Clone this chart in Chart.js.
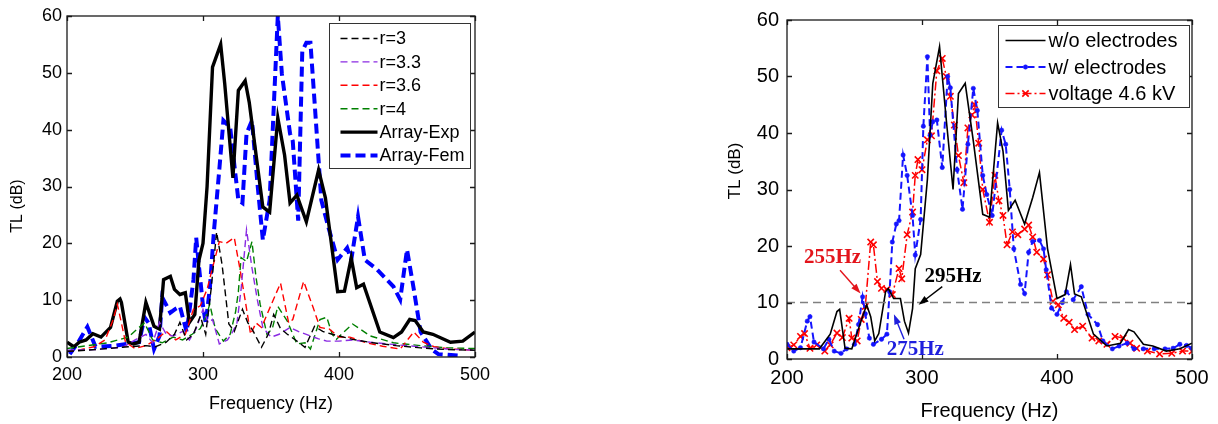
<!DOCTYPE html>
<html>
<head>
<meta charset="utf-8">
<script src="https://cdn.jsdelivr.net/npm/chart.js@4.4.1/dist/chart.umd.min.js"></script>
<style>
  body { margin: 0; background: #fff; width: 1218px; height: 424px; overflow: hidden; position: relative; }
  canvas { position: absolute; top: 0; }
  #tl-array { left: 0; }
  #tl-electrodes { left: 700px; }
</style>
</head>
<body>
<canvas id="tl-array" width="500" height="424"></canvas>
<canvas id="tl-electrodes" width="518" height="424"></canvas>
<script>
// ---- left panel: unit-cell ratio sweep vs. array measurement ----
const r3Freq = [200, 215, 230, 245, 258, 265, 273, 279, 283, 288, 293, 298, 302, 306, 310, 314, 319, 323, 329, 333, 337, 343, 348, 352, 357, 362, 368, 375, 382, 388, 395, 410, 425, 442, 460, 480, 500];
const r3TL   = [1.0, 1.2, 1.5, 1.8, 2.0, 1.8, 2.6, 4.0, 6.1, 3.0, 4.0, 7.2, 4.0, 12, 22, 16.3, 5.8, 4.5, 8.4, 6.0, 4.5, 1.7, 4.0, 7.5, 5.0, 4.0, 3.0, 1.7, 5.4, 4.5, 4.0, 3.1, 2.5, 2.0, 1.6, 1.3, 1.2];

const r33Freq = [200, 220, 241, 250, 258, 263, 268, 273, 278, 285, 290, 295, 300, 304, 307, 312, 318, 322, 325, 328, 332, 336, 340, 344, 350, 356, 364, 370, 379, 385, 391, 400, 410, 423, 440, 460, 480, 500];
const r33TL   = [1.2, 1.3, 1.7, 3.0, 4.0, 2.5, 6.1, 4.0, 3.7, 4.5, 3.0, 5.0, 8.4, 6.0, 6.6, 2.3, 3.0, 4.5, 6.0, 11.9, 22.4, 15.7, 10, 5.2, 3.5, 4.0, 5.2, 4.5, 3.7, 3.2, 2.8, 2.8, 3.0, 2.6, 2.2, 1.8, 1.4, 1.2];

const r36Freq = [200, 210, 220, 228, 234, 237, 240, 243, 250, 258, 265, 273, 280, 287, 293, 298, 303, 307, 312, 317, 323, 327, 331, 335, 339, 343, 348, 357, 363, 366, 374, 381, 386, 393, 400, 408, 420, 432, 445, 455, 462, 470, 482, 500];
const r36TL   = [1.0, 1.3, 1.8, 3.0, 6.6, 9.3, 6.0, 2.6, 1.5, 2.0, 3.0, 4.5, 3.0, 4.0, 8.4, 9.0, 11.9, 15.7, 20.3, 20.0, 21.0, 15.7, 10, 4.0, 6.0, 5.2, 8.0, 13, 6.0, 6.6, 13.3, 8.7, 5.2, 4.9, 3.5, 3.5, 2.5, 1.9, 1.4, 4.4, 2.6, 1.8, 1.4, 1.2];

const r4Freq = [200, 215, 230, 245, 252, 257, 263, 270, 278, 285, 292, 298, 302, 305, 309, 315, 320, 324, 326, 328, 332, 336, 339, 342, 347, 351, 355, 362, 369, 375, 379, 386, 391, 395, 398, 404, 410, 423, 440, 460, 480, 500];
const r4TL   = [1.5, 2.0, 2.5, 3.5, 5.0, 6.0, 3.0, 2.5, 3.5, 3.0, 4.0, 5.0, 7.0, 9.3, 5.0, 2.8, 4.0, 8.0, 11.5, 17.5, 16.8, 20.3, 14, 9.3, 4.0, 5.0, 8.9, 6.3, 2.3, 2.5, 1.4, 6.6, 7.0, 4.0, 3.1, 4.5, 5.8, 3.7, 2.5, 2.0, 1.6, 1.5];

const expFreq = [200, 205, 209, 214, 219, 225, 232, 237, 239, 240, 245, 249, 253, 258, 264, 268, 271, 276, 279, 283, 287, 290, 294, 297, 300, 303, 307, 313, 316, 322, 326, 331, 334, 344, 349, 355, 360, 364, 369, 376, 385, 390, 399, 404, 409, 413, 418, 430, 440, 446, 452, 456, 462, 469, 482, 491, 500];
const expTL   = [2.6, 1.8, 2.6, 3.0, 4.1, 3.5, 5.2, 9.8, 10.2, 9.6, 2.6, 2.3, 2.6, 9.6, 5.4, 4.9, 13.6, 14.2, 11.9, 11.0, 11.3, 6.1, 7.5, 17, 20, 30, 51, 55, 48, 31.5, 46.9, 48.6, 44.8, 26.4, 25.5, 42.1, 35.5, 27.1, 28.5, 23.8, 32.9, 28, 11.5, 11.6, 17.4, 12.2, 12.8, 4.4, 3.4, 4.4, 6.6, 6.4, 4.4, 4.0, 2.6, 2.8, 4.4];

const femFreq = [202, 208, 215, 221, 229, 236, 244, 253, 257, 260, 264, 268, 270, 276, 280, 283, 288, 293, 295, 297, 300, 302, 305, 308, 312, 315, 320, 322, 326, 329, 332, 336, 340, 344, 349, 355, 358, 364, 366, 370, 373, 376, 379, 382, 387, 392, 399, 406, 409, 414, 419, 428, 440, 445, 450, 455, 460, 468, 473, 490];
const femTL   = [0.5, 2.5, 5.3, 1.8, 1.9, 2.0, 2.3, 2.6, 7.0, 6.0, 1.4, 3.7, 10.5, 7.8, 8.5, 8.9, 4.4, 13.6, 21, 16, 9, 6, 12, 22, 33, 41.6, 40.4, 36, 27.6, 27.1, 39.3, 41.6, 30.6, 20.6, 27.6, 60, 49.8, 39.3, 38, 24, 53.8, 55.3, 55.3, 45, 27.6, 23, 17.1, 19.2, 17.1, 24.7, 17.1, 15.4, 12.4, 10.1, 18.9, 11.9, 4.4, 1.4, 0.5, 0.2];

// ---- right panel: effect of electrodes and applied voltage ----
const bareFreq = [200, 210, 224, 232, 237, 239, 243, 248, 254, 259, 262, 265, 268, 273, 275, 279, 284, 287, 290, 293, 295, 299, 304, 308, 313, 318, 323, 327, 332, 338, 345, 350, 356, 360, 364, 369, 376, 382, 387, 393, 400, 406, 410, 413, 418, 427, 437, 447, 453, 457, 464, 471, 481, 491, 500];
const bareTL   = [1.8, 1.8, 1.8, 4.4, 8.4, 8.8, 1.9, 1.8, 6.1, 9.6, 7.5, 3.2, 4.5, 11.9, 12.5, 10.7, 10.7, 6.7, 4.6, 8.9, 16, 18.5, 31.8, 48.8, 55.3, 42.3, 30, 47, 48.8, 38.6, 25.6, 25.1, 41.8, 36.8, 26.3, 28.1, 23.9, 28.6, 33, 19.5, 10.7, 11.4, 16.7, 11.5, 11, 4.4, 2.3, 2.8, 5.2, 4.8, 2.6, 2.3, 1.4, 1.8, 2.8];

const electFreq = [200, 205, 210, 215, 217, 220, 227, 231, 235, 240, 244, 250, 253, 256, 258, 261, 264, 270, 274, 276, 278, 281, 283, 286, 289, 293, 295, 299, 301, 304, 306, 308, 311, 315, 319, 321, 326, 330, 334, 338, 341, 345, 348, 352, 359, 362, 365, 368, 373, 376, 379, 382, 387, 390, 392, 396, 400, 404, 407, 412, 418, 423, 430, 434, 441, 446, 452, 457, 464, 472, 480, 486, 491, 496, 500];
const electTL   = [2.6, 1.4, 2.0, 6.7, 7.5, 3.0, 1.8, 3.5, 1.4, 1.0, 1.8, 2.6, 6.1, 11, 8, 3.7, 2.6, 3.5, 4.4, 11.9, 20.7, 23.9, 24.5, 36.1, 32.5, 25.4, 18.4, 24.7, 41.2, 53.5, 39.6, 42, 42.3, 33.9, 50, 48, 33.5, 26.5, 38, 47.9, 44, 32.5, 29.1, 25.4, 40.5, 38, 30, 19.5, 13.2, 11.6, 18.9, 20.8, 21, 19.5, 15.8, 9, 7.9, 10, 11.9, 10.5, 12.8, 7.9, 6.1, 3.2, 1.8, 2.3, 2.8, 1.8, 1.8, 1.8, 1.8, 1.9, 2.6, 2.4, 1.9];

const voltFreq = [200, 205, 210, 213, 217, 222, 228, 232, 237, 241, 246, 248, 252, 255, 258, 262, 264, 267, 270, 274, 278, 283, 285, 289, 293, 295, 297, 300, 304, 307, 311, 315, 318, 321, 324, 327, 331, 334, 337, 339, 342, 345, 350, 354, 357, 360, 363, 367, 371, 376, 379, 382, 385, 390, 393, 397, 401, 405, 409, 413, 419, 426, 431, 437, 443, 449, 454, 459, 467, 476, 485, 493, 500];
const voltTL   = [2.0, 2.5, 4.0, 4.5, 1.9, 2.5, 1.4, 2.5, 4.6, 3.8, 7.2, 3.7, 3.2, 7, 9.3, 20.7, 20.2, 13.7, 12.5, 12.3, 11.4, 16, 14.2, 22, 26, 32.5, 35.3, 33.5, 38.8, 39.5, 51, 53.2, 50, 46.5, 41.4, 36, 31.2, 40.9, 43.2, 45, 38.2, 30, 24.2, 32.5, 28, 25.4, 20.2, 22.5, 22, 23, 23.7, 21.6, 18.9, 17.7, 14.9, 10.2, 9.6, 7.2, 6.5, 5.2, 5.8, 3.7, 3.2, 2.6, 4.0, 3.7, 2.8, 1.9, 1.4, 0.9, 1.0, 1.4, 1.4];

// 10 dB reference level
const refFreq = [200, 500];
const refTL   = [10, 10];

const xTicks = [200, 300, 400, 500];
const yTicks = [0, 10, 20, 30, 40, 50, 60];

const pts = (f, v) => f.map((x, i) => ({ x, y: v[i] }));
const SANS = '"Liberation Sans", Arial, sans-serif';

// Matlab-style box with inward tick marks on all four sides, plus the rotated y label
const axesFrame = {
    id: 'axesFrame',
    afterDatasetsDraw(chart, args, o) {
        const { ctx, chartArea: a, scales: { x, y } } = chart;
        ctx.save();
        ctx.strokeStyle = '#1a1a1a';
        ctx.lineWidth = o.lineWidth;
        ctx.setLineDash([]);
        ctx.beginPath();
        xTicks.forEach(v => {
            const px = Math.round(x.getPixelForValue(v)) + 0.5;
            ctx.moveTo(px, a.bottom); ctx.lineTo(px, a.bottom - o.tick);
            ctx.moveTo(px, a.top); ctx.lineTo(px, a.top + o.tick);
        });
        yTicks.forEach(v => {
            const py = Math.round(y.getPixelForValue(v)) + 0.5;
            ctx.moveTo(a.left, py); ctx.lineTo(a.left + o.tick, py);
            ctx.moveTo(a.right, py); ctx.lineTo(a.right - o.tick, py);
        });
        ctx.stroke();
        ctx.strokeRect(a.left, a.top, a.right - a.left, a.bottom - a.top);

        const t = o.yTitle;
        ctx.translate(t.x, t.y);
        ctx.rotate(-Math.PI / 2);
        ctx.font = t.font;
        ctx.fillStyle = '#000';
        ctx.textAlign = 'center';
        ctx.textBaseline = 'middle';
        ctx.fillText(t.text, 0, 0);
        ctx.restore();
    }
};

// boxed legend in the upper right corner, samples taken from the dataset styles
const boxLegend = {
    id: 'boxLegend',
    afterDraw(chart, args, o) {
        const { ctx, chartArea: a } = chart;
        const left = Math.round(a.right - o.right - o.width) + 0.5;
        const top = Math.round(a.top + o.top) + 0.5;
        ctx.save();
        ctx.fillStyle = '#fff';
        ctx.fillRect(left, top, o.width, o.height);
        ctx.strokeStyle = '#333';
        ctx.lineWidth = 1;
        ctx.strokeRect(left, top, o.width, o.height);
        ctx.font = o.font;
        ctx.textBaseline = 'middle';
        ctx.textAlign = 'left';
        chart.data.datasets.filter(d => d.label).forEach((d, i) => {
            const cy = top + o.firstRow + i * o.rowGap;
            ctx.strokeStyle = d.borderColor;
            ctx.lineWidth = d.borderWidth;
            ctx.setLineDash(d.borderDash || []);
            ctx.beginPath();
            ctx.moveTo(left + o.sampleFrom, cy);
            ctx.lineTo(left + o.sampleTo, cy);
            ctx.stroke();
            if (d.pointRadius) {
                ctx.setLineDash([]);
                ctx.fillStyle = d.borderColor;
                ctx.lineWidth = d.pointBorderWidth || 1;
                Chart.helpers.drawPoint(ctx, {
                    pointStyle: d.pointStyle, radius: d.pointRadius, rotation: 0, borderWidth: ctx.lineWidth
                }, left + (o.sampleFrom + o.sampleTo) / 2, cy);
            }
            ctx.fillStyle = '#000';
            ctx.fillText(d.label, left + o.textAt, cy + 1);
        });
        ctx.restore();
    }
};

// frequency call-outs with arrows, placed in data units
const callouts = {
    id: 'callouts',
    afterDatasetsDraw(chart, args, o) {
        if (!o.items) return;
        const { ctx, scales: { x, y } } = chart;
        const px = p => [x.getPixelForValue(p[0]), y.getPixelForValue(p[1])];
        ctx.save();
        ctx.setLineDash([]);
        o.items.forEach(c => {
            const [tx, ty] = px(c.tail);
            const [hx, hy] = px(c.tip);
            const ang = Math.atan2(hy - ty, hx - tx);
            ctx.strokeStyle = ctx.fillStyle = c.color;
            ctx.lineWidth = 1.4;
            ctx.beginPath();
            ctx.moveTo(tx, ty);
            ctx.lineTo(hx - 7 * Math.cos(ang), hy - 7 * Math.sin(ang));
            ctx.stroke();
            ctx.beginPath();
            ctx.moveTo(hx, hy);
            ctx.lineTo(hx - 10 * Math.cos(ang) + 3.5 * Math.sin(ang), hy - 10 * Math.sin(ang) - 3.5 * Math.cos(ang));
            ctx.lineTo(hx - 10 * Math.cos(ang) - 3.5 * Math.sin(ang), hy - 10 * Math.sin(ang) + 3.5 * Math.cos(ang));
            ctx.closePath();
            ctx.fill();
            const [lx, ly] = px(c.at);
            ctx.font = o.font;
            ctx.textAlign = 'center';
            ctx.textBaseline = 'middle';
            ctx.fillText(c.text, lx, ly);
        });
        ctx.restore();
    }
};

const makeOptions = (cfg) => ({
    responsive: false,
    animation: false,
    events: [],
    layout: { padding: { top: cfg.top, right: cfg.right, left: 0, bottom: 0 } },
    elements: { line: { tension: 0 } },
    scales: {
        x: {
            type: 'linear', min: 200, max: 500,
            afterFit: (s) => { s.height = cfg.xHeight; },
            afterBuildTicks: (s) => { s.ticks = xTicks.map(v => ({ value: v })); },
            grid: { display: false, drawTicks: false },
            border: { display: false },
            ticks: { color: '#000', padding: cfg.xPad, font: { family: SANS, size: cfg.tickSize }, maxRotation: 0 },
            title: { display: true, text: 'Frequency (Hz)', color: '#000', padding: { top: 0, bottom: cfg.xTitlePad }, font: { family: SANS, size: cfg.titleSize } }
        },
        y: {
            min: 0, max: 60,
            afterFit: (s) => { s.width = cfg.yWidth; },
            afterBuildTicks: (s) => { s.ticks = yTicks.map(v => ({ value: v })); },
            grid: { display: false, drawTicks: false },
            border: { display: false },
            ticks: { color: '#000', padding: cfg.yPad, font: { family: SANS, size: cfg.tickSize } }
        }
    },
    plugins: {
        legend: { display: false },
        tooltip: { enabled: false },
        axesFrame: { lineWidth: 1.3, tick: 5, yTitle: cfg.yTitle },
        boxLegend: cfg.legend,
        callouts: cfg.callouts || {}
    }
});

const thin = (label, data, color) => ({
    label, data, borderColor: color, borderWidth: 1.4, borderDash: [7, 4], pointRadius: 0
});

new Chart(document.getElementById('tl-array'), {
    type: 'line',
    data: {
        datasets: [
            thin('r=3', pts(r3Freq, r3TL), '#000000'),
            thin('r=3.3', pts(r33Freq, r33TL), '#8a2be2'),
            thin('r=3.6', pts(r36Freq, r36TL), '#ff0000'),
            thin('r=4', pts(r4Freq, r4TL), '#008000'),
            { label: 'Array-Exp', data: pts(expFreq, expTL), borderColor: '#000000', borderWidth: 3.4, pointRadius: 0 },
            { label: 'Array-Fem', data: pts(femFreq, femTL), borderColor: '#0000ff', borderWidth: 4, borderDash: [10, 5], pointRadius: 0 }
        ]
    },
    options: makeOptions({
        top: 16, right: 25, xHeight: 67, yWidth: 67,
        xPad: 7, yPad: 5, xTitlePad: 9,
        tickSize: 18, titleSize: 18,
        yTitle: { text: 'TL (dB)', x: 18, y: 206, font: '16px ' + SANS },
        legend: { right: 5, top: 7, width: 141, height: 145, firstRow: 15, rowGap: 23.4, sampleFrom: 11, sampleTo: 48, textAt: 50, font: '18px ' + SANS }
    }),
    plugins: [axesFrame, boxLegend]
});

new Chart(document.getElementById('tl-electrodes'), {
    type: 'line',
    data: {
        datasets: [
            { data: pts(refFreq, refTL), borderColor: '#808080', borderWidth: 1.3, borderDash: [8, 5], pointRadius: 0 },
            { label: 'w/o electrodes', data: pts(bareFreq, bareTL), borderColor: '#000000', borderWidth: 1.6, pointRadius: 0 },
            { label: 'w/ electrodes', data: pts(electFreq, electTL), borderColor: '#1414ff', borderWidth: 2, borderDash: [7, 4],
              pointStyle: 'circle', pointRadius: 2.2, pointBackgroundColor: '#1414ff', pointBorderWidth: 0.5 },
            { label: 'voltage 4.6 kV', data: pts(voltFreq, voltTL), borderColor: '#ff0000', borderWidth: 1.5, borderDash: [9, 3, 2, 3],
              pointStyle: 'crossRot', pointRadius: 4.5, pointBorderWidth: 1.6 }
        ]
    },
    options: makeOptions({
        top: 17, right: 26, xHeight: 65, yWidth: 87,
        xPad: 7, yPad: 8, xTitlePad: 1,
        tickSize: 20, titleSize: 20,
        yTitle: { text: 'TL (dB)', x: 35, y: 171, font: '17px ' + SANS },
        legend: { right: 3, top: 5, width: 191, height: 82, firstRow: 15, rowGap: 26.5, sampleFrom: 7, sampleTo: 47, textAt: 50, font: '20px ' + SANS },
        callouts: {
            font: 'bold 21px "Liberation Serif", "Times New Roman", serif',
            items: [
                { text: '255Hz', color: '#e3141b', at: [233.7, 18.0], tail: [239.3, 15.7], tip: [254.5, 11.6] },
                { text: '295Hz', color: '#000000', at: [323, 14.6], tail: [315, 12.8], tip: [297.5, 9.6] },
                { text: '275Hz', color: '#1f1fdd', at: [295, 1.6], tail: [286.7, 3.5], tip: [279.2, 7.9] }
            ]
        }
    }),
    plugins: [axesFrame, boxLegend, callouts]
});
</script>
</body>
</html>
